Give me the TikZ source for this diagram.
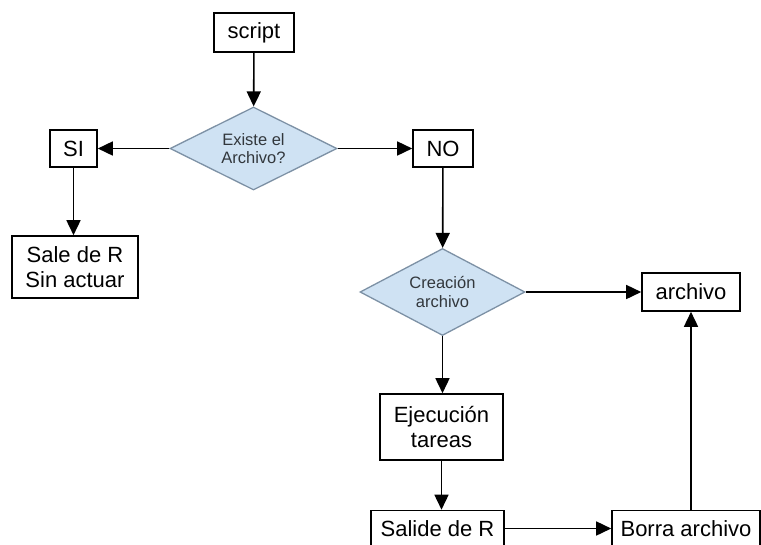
\documentclass[tikz,border=0pt]{standalone}
\usepackage{fontspec}
\setmainfont{Liberation Sans}
\usetikzlibrary{shapes.geometric,arrows.meta}
\definecolor{dfill}{RGB}{207,226,243}
\definecolor{dline}{RGB}{125,145,165}
\definecolor{dtext}{RGB}{50,55,60}
\tikzset{
  box/.style={draw, line width=1.6pt, fill=white, font=\fontsize{22}{25}\selectfont, align=center, inner sep=0pt},
  dia/.style={diamond, draw=dline, line width=1.3pt, fill=dfill, text=dtext, font=\fontsize{16.5}{18.5}\selectfont, align=center, inner sep=0pt, aspect=2},
  arr/.style={line width=1.6pt, -{Triangle[length=15pt,width=14pt]}},
}
\begin{document}
\begin{tikzpicture}[x=1pt,y=-1pt]
\useasboundingbox (0,0) rectangle (761,544);
\clip (0,0) rectangle (761,544);
\fill[white] (0,0) rectangle (761,544);
\node[box, minimum width=80, minimum height=39] (script) at (254,32.5) {script};
\node[dia, minimum width=167, minimum height=83] (d1) at (253.5,148.5) {Existe el\\Archivo?};
\node[box, minimum width=47, minimum height=37] (si) at (73.5,148.5) {SI};
\node[box, minimum width=60, minimum height=37] (no) at (443,148.5) {NO};
\node[box, minimum width=126, minimum height=62] (sale) at (75,267) {Sale de R\\Sin actuar};
\node[dia, minimum width=165, minimum height=87] (d2) at (442.5,292) {Creación\\archivo};
\node[box, minimum width=98, minimum height=38] (arch) at (691,292) {archivo};
\node[box, minimum width=123, minimum height=66] (ejec) at (441.5,427) {Ejecución\\tareas};
\node[box, minimum width=133, minimum height=36] (sal) at (437.5,528.5) {Salide de R};
\node[box, minimum width=148, minimum height=36] (bor) at (686,528.5) {Borra archivo};
\draw[arr] (script) -- (d1);
\draw[arr] (d1) -- (si);
\draw[arr] (d1) -- (no);
\draw[arr] (si) -- (si |- sale.north);
\draw[arr] (no) -- (d2);
\draw[arr] (d2) -- (arch);
\draw[arr] (d2.south) -- (d2.south |- ejec.north);
\draw[arr] (ejec.south) -- (ejec.south |- sal.north);
\draw[arr] (sal) -- (bor);
\draw[arr] (arch.south |- bor.north) -- (arch.south);
\end{tikzpicture}
\end{document}
